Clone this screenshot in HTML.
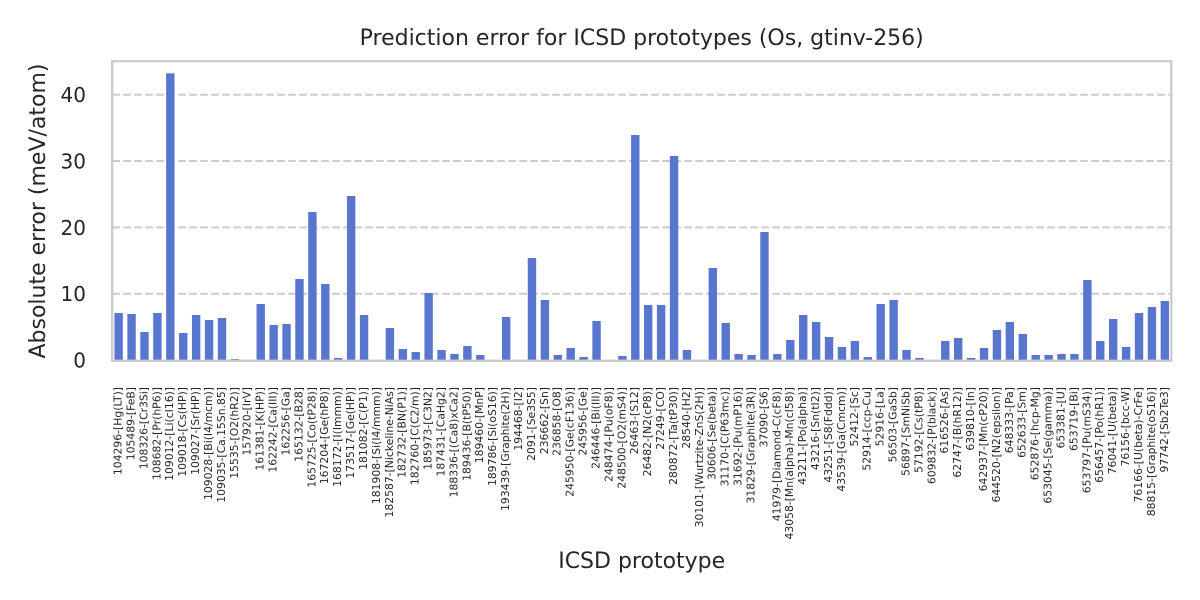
<!DOCTYPE html>
<html><head><meta charset="utf-8"><style>
html,body{margin:0;padding:0;background:#fff;}
svg{display:block;}
text{font-family:"DejaVu Sans","Liberation Sans",sans-serif;fill:#262626;}
</style></head><body>
<svg width="1200" height="600" viewBox="0 0 1200 600" xmlns="http://www.w3.org/2000/svg">
<rect width="1200" height="600" fill="#fff"/>
<!-- gridlines -->
<g stroke="#cccccc" stroke-width="2" stroke-dasharray="7.7 3.3" fill="none">
<line x1="112.2" y1="293.7" x2="1171.3" y2="293.7"/>
<line x1="112.2" y1="227.37" x2="1171.3" y2="227.37"/>
<line x1="112.2" y1="161.03" x2="1171.3" y2="161.03"/>
<line x1="112.2" y1="94.7" x2="1171.3" y2="94.7"/>
</g>
<!-- bars -->
<g fill="#5976ce">
<rect x="114.46" y="313" width="8.4" height="47.5"/>
<rect x="127.37" y="314" width="8.4" height="46.5"/>
<rect x="140.29" y="332" width="8.4" height="28.5"/>
<rect x="153.21" y="313" width="8.4" height="47.5"/>
<rect x="166.12" y="73.33" width="8.4" height="287.17"/>
<rect x="179.04" y="333" width="8.4" height="27.5"/>
<rect x="191.95" y="315" width="8.4" height="45.5"/>
<rect x="204.87" y="320" width="8.4" height="40.5"/>
<rect x="217.79" y="318" width="8.4" height="42.5"/>
<rect x="230.70" y="359" width="8.4" height="1.5"/>
<rect x="256.53" y="304" width="8.4" height="56.5"/>
<rect x="269.45" y="325" width="8.4" height="35.5"/>
<rect x="282.37" y="324" width="8.4" height="36.5"/>
<rect x="295.28" y="279" width="8.4" height="81.5"/>
<rect x="308.20" y="212" width="8.4" height="148.5"/>
<rect x="321.11" y="284" width="8.4" height="76.5"/>
<rect x="334.03" y="358" width="8.4" height="2.5"/>
<rect x="346.95" y="196" width="8.4" height="164.5"/>
<rect x="359.86" y="315" width="8.4" height="45.5"/>
<rect x="385.69" y="328" width="8.4" height="32.5"/>
<rect x="398.61" y="349" width="8.4" height="11.5"/>
<rect x="411.53" y="352" width="8.4" height="8.5"/>
<rect x="424.44" y="293" width="8.4" height="67.5"/>
<rect x="437.36" y="350" width="8.4" height="10.5"/>
<rect x="450.27" y="354" width="8.4" height="6.5"/>
<rect x="463.19" y="346" width="8.4" height="14.5"/>
<rect x="476.11" y="355" width="8.4" height="5.5"/>
<rect x="501.94" y="317" width="8.4" height="43.5"/>
<rect x="527.77" y="258" width="8.4" height="102.5"/>
<rect x="540.69" y="300" width="8.4" height="60.5"/>
<rect x="553.60" y="355" width="8.4" height="5.5"/>
<rect x="566.52" y="348" width="8.4" height="12.5"/>
<rect x="579.43" y="357" width="8.4" height="3.5"/>
<rect x="592.35" y="321" width="8.4" height="39.5"/>
<rect x="618.18" y="356" width="8.4" height="4.5"/>
<rect x="631.10" y="135" width="8.4" height="225.5"/>
<rect x="644.01" y="305" width="8.4" height="55.5"/>
<rect x="656.93" y="305" width="8.4" height="55.5"/>
<rect x="669.85" y="156" width="8.4" height="204.5"/>
<rect x="682.76" y="350" width="8.4" height="10.5"/>
<rect x="708.59" y="268" width="8.4" height="92.5"/>
<rect x="721.51" y="323" width="8.4" height="37.5"/>
<rect x="734.43" y="354" width="8.4" height="6.5"/>
<rect x="747.34" y="355" width="8.4" height="5.5"/>
<rect x="760.26" y="232" width="8.4" height="128.5"/>
<rect x="773.17" y="354" width="8.4" height="6.5"/>
<rect x="786.09" y="340" width="8.4" height="20.5"/>
<rect x="799.01" y="315" width="8.4" height="45.5"/>
<rect x="811.92" y="322" width="8.4" height="38.5"/>
<rect x="824.84" y="337" width="8.4" height="23.5"/>
<rect x="837.75" y="347" width="8.4" height="13.5"/>
<rect x="850.67" y="341" width="8.4" height="19.5"/>
<rect x="863.59" y="357" width="8.4" height="3.5"/>
<rect x="876.50" y="304" width="8.4" height="56.5"/>
<rect x="889.42" y="300" width="8.4" height="60.5"/>
<rect x="902.33" y="350" width="8.4" height="10.5"/>
<rect x="915.25" y="358" width="8.4" height="2.5"/>
<rect x="941.08" y="341" width="8.4" height="19.5"/>
<rect x="954.00" y="338" width="8.4" height="22.5"/>
<rect x="966.91" y="358" width="8.4" height="2.5"/>
<rect x="979.83" y="348" width="8.4" height="12.5"/>
<rect x="992.75" y="330" width="8.4" height="30.5"/>
<rect x="1005.66" y="322" width="8.4" height="38.5"/>
<rect x="1018.58" y="334" width="8.4" height="26.5"/>
<rect x="1031.49" y="355" width="8.4" height="5.5"/>
<rect x="1044.41" y="355" width="8.4" height="5.5"/>
<rect x="1057.33" y="354" width="8.4" height="6.5"/>
<rect x="1070.24" y="354" width="8.4" height="6.5"/>
<rect x="1083.16" y="280" width="8.4" height="80.5"/>
<rect x="1096.07" y="341" width="8.4" height="19.5"/>
<rect x="1108.99" y="319" width="8.4" height="41.5"/>
<rect x="1121.91" y="347" width="8.4" height="13.5"/>
<rect x="1134.82" y="313" width="8.4" height="47.5"/>
<rect x="1147.74" y="307" width="8.4" height="53.5"/>
<rect x="1160.65" y="301" width="8.4" height="59.5"/>
</g>
<!-- frame -->
<rect x="112.2" y="61.2" width="1059.1" height="299.6" fill="none" stroke="#cccccc" stroke-width="2.4"/>
<!-- y tick labels -->
<g font-size="20" text-anchor="end">
<text x="86" y="367.4">0</text>
<text x="86" y="301.1">10</text>
<text x="86" y="234.8">20</text>
<text x="86" y="168.4">30</text>
<text x="86" y="102.1">40</text>
</g>
<!-- y label -->
<text transform="translate(45,211) rotate(-90)" font-size="22" text-anchor="middle">Absolute error (meV/atom)</text>
<!-- title -->
<text x="641.7" y="45" font-size="22" text-anchor="middle">Prediction error for ICSD prototypes (Os, gtinv-256)</text>
<!-- x label -->
<text x="641.7" y="568" font-size="22" text-anchor="middle">ICSD prototype</text>
<!-- x tick labels -->
<g font-size="10.8" text-anchor="end" transform="translate(2.9,0)">
<text transform="translate(118.66,387) rotate(-90)">104296-[Hg(LT)]</text>
<text transform="translate(131.57,387) rotate(-90)">105489-[FeB]</text>
<text transform="translate(144.49,387) rotate(-90)">108326-[Cr3Si]</text>
<text transform="translate(157.41,387) rotate(-90)">108682-[Pr(hP6)]</text>
<text transform="translate(170.32,387) rotate(-90)">109012-[Li(cI16)]</text>
<text transform="translate(183.24,387) rotate(-90)">109018-[Cs(HP)]</text>
<text transform="translate(196.15,387) rotate(-90)">109027-[Sr(HP)]</text>
<text transform="translate(209.07,387) rotate(-90)">109028-[Bi(I4/mcm)]</text>
<text transform="translate(221.99,387) rotate(-90)">109035-[Ca.15Sn.85]</text>
<text transform="translate(234.90,387) rotate(-90)">15535-[O2(hR2)]</text>
<text transform="translate(247.82,387) rotate(-90)">157920-[IrV]</text>
<text transform="translate(260.73,387) rotate(-90)">161381-[K(HP)]</text>
<text transform="translate(273.65,387) rotate(-90)">162242-[Ca(III)]</text>
<text transform="translate(286.57,387) rotate(-90)">162256-[Ga]</text>
<text transform="translate(299.48,387) rotate(-90)">165132-[B28]</text>
<text transform="translate(312.40,387) rotate(-90)">165725-[Co(tP28)]</text>
<text transform="translate(325.31,387) rotate(-90)">167204-[Ge(hP8)]</text>
<text transform="translate(338.23,387) rotate(-90)">168172-[I(Immm)]</text>
<text transform="translate(351.15,387) rotate(-90)">173517-[Ge(HP)]</text>
<text transform="translate(364.06,387) rotate(-90)">181082-[C(P1)]</text>
<text transform="translate(376.98,387) rotate(-90)">181908-[Si(I4/mmm)]</text>
<text transform="translate(389.89,387) rotate(-90)">182587-[Nickeline-NiAs]</text>
<text transform="translate(402.81,387) rotate(-90)">182732-[BN(P1)]</text>
<text transform="translate(415.73,387) rotate(-90)">182760-[C(C2/m)]</text>
<text transform="translate(428.64,387) rotate(-90)">185973-[C3N2]</text>
<text transform="translate(441.56,387) rotate(-90)">187431-[CaHg2]</text>
<text transform="translate(454.47,387) rotate(-90)">188336-[(Ca8)xCa2]</text>
<text transform="translate(467.39,387) rotate(-90)">189436-[B(tP50)]</text>
<text transform="translate(480.31,387) rotate(-90)">189460-[MnP]</text>
<text transform="translate(493.22,387) rotate(-90)">189786-[Si(oS16)]</text>
<text transform="translate(506.14,387) rotate(-90)">193439-[Graphite(2H)]</text>
<text transform="translate(519.05,387) rotate(-90)">194468-[I2]</text>
<text transform="translate(531.97,387) rotate(-90)">2091-[Se3S5]</text>
<text transform="translate(544.89,387) rotate(-90)">236662-[Sn]</text>
<text transform="translate(557.80,387) rotate(-90)">236858-[O8]</text>
<text transform="translate(570.72,387) rotate(-90)">245950-[Ge(cF136)]</text>
<text transform="translate(583.63,387) rotate(-90)">245956-[Ge]</text>
<text transform="translate(596.55,387) rotate(-90)">246446-[Bi(III)]</text>
<text transform="translate(609.47,387) rotate(-90)">248474-[Pu(oF8)]</text>
<text transform="translate(622.38,387) rotate(-90)">248500-[O2(mS4)]</text>
<text transform="translate(635.30,387) rotate(-90)">26463-[S12]</text>
<text transform="translate(648.21,387) rotate(-90)">26482-[N2(cP8)]</text>
<text transform="translate(661.13,387) rotate(-90)">27249-[CO]</text>
<text transform="translate(674.05,387) rotate(-90)">280872-[Ta(tP30)]</text>
<text transform="translate(686.96,387) rotate(-90)">28540-[H2]</text>
<text transform="translate(699.88,387) rotate(-90)">30101-[Wurtzite-ZnS(2H)]</text>
<text transform="translate(712.79,387) rotate(-90)">30606-[Se(beta)]</text>
<text transform="translate(725.71,387) rotate(-90)">31170-[C(P63mc)]</text>
<text transform="translate(738.63,387) rotate(-90)">31692-[Pu(mP16)]</text>
<text transform="translate(751.54,387) rotate(-90)">31829-[Graphite(3R)]</text>
<text transform="translate(764.46,387) rotate(-90)">37090-[S6]</text>
<text transform="translate(777.37,387) rotate(-90)">41979-[Diamond-C(cF8)]</text>
<text transform="translate(790.29,387) rotate(-90)">43058-[Mn(alpha)-Mn(cI58)]</text>
<text transform="translate(803.21,387) rotate(-90)">43211-[Po(alpha)]</text>
<text transform="translate(816.12,387) rotate(-90)">43216-[Sn(tI2)]</text>
<text transform="translate(829.04,387) rotate(-90)">43251-[S8(Fddd)]</text>
<text transform="translate(841.95,387) rotate(-90)">43539-[Ga(Cmcm)]</text>
<text transform="translate(854.87,387) rotate(-90)">52412-[Sc]</text>
<text transform="translate(867.79,387) rotate(-90)">52914-[ccp-Cu]</text>
<text transform="translate(880.70,387) rotate(-90)">52916-[La]</text>
<text transform="translate(893.62,387) rotate(-90)">56503-[GaSb]</text>
<text transform="translate(906.53,387) rotate(-90)">56897-[SmNiSb]</text>
<text transform="translate(919.45,387) rotate(-90)">57192-[Cs(tP8)]</text>
<text transform="translate(932.37,387) rotate(-90)">609832-[P(black)]</text>
<text transform="translate(945.28,387) rotate(-90)">616526-[As]</text>
<text transform="translate(958.20,387) rotate(-90)">62747-[B(hR12)]</text>
<text transform="translate(971.11,387) rotate(-90)">639810-[In]</text>
<text transform="translate(984.03,387) rotate(-90)">642937-[Mn(cP20)]</text>
<text transform="translate(996.95,387) rotate(-90)">644520-[N2(epsilon)]</text>
<text transform="translate(1009.86,387) rotate(-90)">648333-[Pa]</text>
<text transform="translate(1022.78,387) rotate(-90)">652633-[Sm]</text>
<text transform="translate(1035.69,387) rotate(-90)">652876-[hcp-Mg]</text>
<text transform="translate(1048.61,387) rotate(-90)">653045-[Se(gamma)]</text>
<text transform="translate(1061.53,387) rotate(-90)">653381-[U]</text>
<text transform="translate(1074.44,387) rotate(-90)">653719-[Bi]</text>
<text transform="translate(1087.36,387) rotate(-90)">653797-[Pu(mS34)]</text>
<text transform="translate(1100.27,387) rotate(-90)">656457-[Po(hR1)]</text>
<text transform="translate(1113.19,387) rotate(-90)">76041-[U(beta)]</text>
<text transform="translate(1126.11,387) rotate(-90)">76156-[bcc-W]</text>
<text transform="translate(1139.02,387) rotate(-90)">76166-[U(beta)-CrFe]</text>
<text transform="translate(1151.94,387) rotate(-90)">88815-[Graphite(oS16)]</text>
<text transform="translate(1164.85,387) rotate(-90)">97742-[Sb2Te3]</text>
</g>
</svg>
</body></html>
